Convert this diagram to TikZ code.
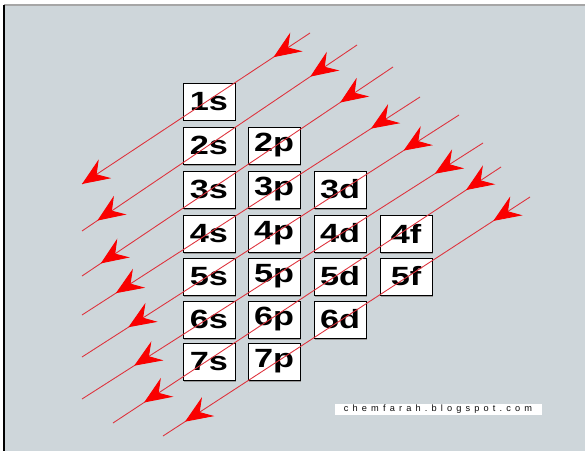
\documentclass[tikz,border=0pt]{standalone}
\usepackage{fontspec}
\setmainfont{Liberation Sans}
\newfontfamily\orbfont[FakeStretch=1.3]{Liberation Sans}
\usetikzlibrary{arrows.meta,decorations.markings,shadows}
\definecolor{panel}{RGB}{206,214,218}
\definecolor{linered}{RGB}{222,50,60}
\definecolor{headred}{RGB}{250,0,0}
\tikzset{
  redhead/.tip={Stealth[length=11mm,width=9mm,inset=4mm,color=headred]},
  orb/.style={draw,fill=white,line width=0.7pt,minimum width=20.8mm,minimum height=14.8mm,inner sep=0pt,
    font=\orbfont\bfseries\fontsize{30}{30}\selectfont,
    drop shadow={shadow xshift=0.5mm,shadow yshift=-0.6mm,fill=gray!80,opacity=1}},
  orbit/.style n args={2}{draw=linered,line width=1pt,postaction={decorate},
    decoration={markings,mark=at position #1 with {\arrow{redhead}},mark=at position #2 with {\arrow{redhead}}}}
}

\begin{document}
\begin{tikzpicture}[x=0.4mm,y=-0.4mm]
  \useasboundingbox (0,0) rectangle (587,454);
  % panel behind the chart
  \path[fill=white] (0,0) rectangle (587,454);
  \path[fill=panel] (4,5) rectangle (585,451);
  \draw[gray!70,line width=0.5mm] (4,5)--(585,5);
  \draw[black,line width=0.9mm] (4,5)--(4,451);
  % sublevel boxes, one row per shell
  \node[orb] (s1) at (209,101.5) {1s};
  \node[orb] (s2) at (209,145.5) {2s};
  \node[orb] (p2) at (274,145.5) {2p};
  \node[orb] (s3) at (209,189.5) {3s};
  \node[orb] (p3) at (274,189.5) {3p};
  \node[orb] (d3) at (340,189.5) {3d};
  \node[orb] (s4) at (209,233.5) {4s};
  \node[orb] (p4) at (274,233.5) {4p};
  \node[orb] (d4) at (340,233.5) {4d};
  \node[orb] (f4) at (406,233.5) {4f};
  \node[orb] (s5) at (209,276.5) {5s};
  \node[orb] (p5) at (274,276.5) {5p};
  \node[orb] (d5) at (340,276.5) {5d};
  \node[orb] (f5) at (406,276.5) {5f};
  \node[orb] (s6) at (209,319.5) {6s};
  \node[orb] (p6) at (274,319.5) {6p};
  \node[orb] (d6) at (340,319.5) {6d};
  \node[orb] (s7) at (209,361.5) {7s};
  \node[orb] (p7) at (274,361.5) {7p};
  % filling order: diagonal arrows, upper right to lower left
  \coordinate (t1) at (310,33);  \coordinate (b1) at (82,184);
  \coordinate (t2) at (357,45);  \coordinate (b2) at (82,231);
  \coordinate (t3) at (393,67);  \coordinate (b3) at (82,276);
  \coordinate (t4) at (420,97);  \coordinate (b4) at (82,315);
  \coordinate (t5) at (459,115); \coordinate (b5) at (82,357);
  \coordinate (t6) at (483,143); \coordinate (b6) at (82,399);
  \coordinate (t7) at (501,167); \coordinate (b7) at (113,423);
  \coordinate (t8) at (530,197); \coordinate (b8) at (163,436);
  \draw[orbit={0.16}{1}] (t1)--(b1);
  \draw[orbit={0.17}{0.944}] (t2)--(b2);
  \draw[orbit={0.17}{0.94}] (t3)--(b3);
  \draw[orbit={0.145}{0.90}] (t4)--(b4);
  \draw[orbit={0.147}{0.877}] (t5)--(b5);
  \draw[orbit={0.12}{0.87}] (t6)--(b6);
  \draw[orbit={0.09}{0.92}] (t7)--(b7);
  \draw[orbit={0.10}{0.94}] (t8)--(b8);
  % blog credit
  \node[fill=white,minimum width=82.8mm,minimum height=4.4mm,inner sep=0pt,text=gray!10!black,
    font=\fontsize{10.5}{10.5}\selectfont\addfontfeature{LetterSpace=45}] (blog) at (438,409) {chemfarah.blogspot.com};
\end{tikzpicture}
\end{document}
